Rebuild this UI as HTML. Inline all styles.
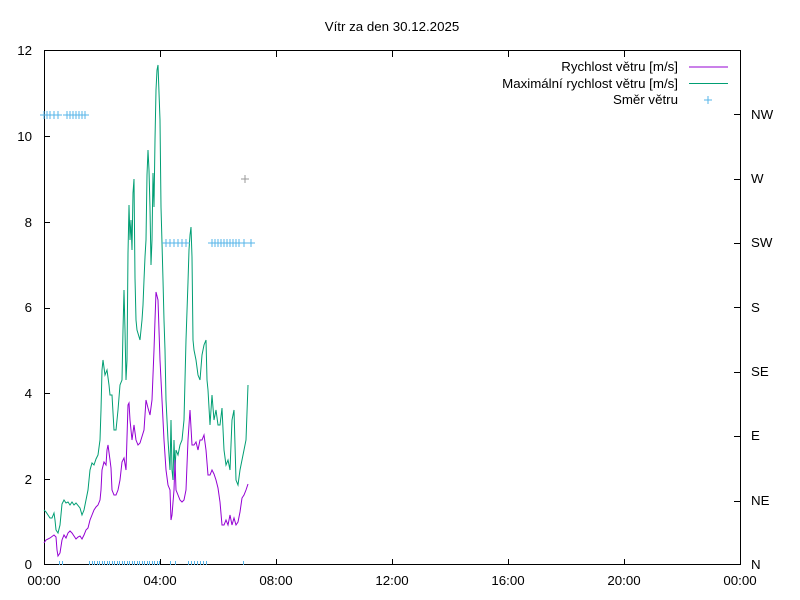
<!DOCTYPE html>
<html><head><meta charset="utf-8"><style>
html,body{margin:0;padding:0;background:#fff;}
svg{display:block;font-family:"Liberation Sans",Arial,sans-serif;font-size:13.3px;}
</style></head><body>
<svg id="s" width="800" height="600" viewBox="0 0 800 600" xmlns="http://www.w3.org/2000/svg">
<rect width="800" height="600" fill="#fff"/>
<text x="392" y="31" text-anchor="middle">Vítr za den 30.12.2025</text>
<g id="grid" stroke="#000" stroke-width="1" fill="none"></g>
<rect x="44.5" y="50.5" width="696" height="514" fill="none" stroke="#000"/>
<g text-anchor="end">
<text x="32" y="569">0</text><text x="32" y="484">2</text><text x="32" y="398">4</text>
<text x="32" y="312">6</text><text x="32" y="227">8</text><text x="32" y="141">10</text><text x="32" y="55">12</text>
</g>
<g>
<text x="751" y="569">N</text><text x="751" y="505">NE</text><text x="751" y="440">E</text>
<text x="751" y="376">SE</text><text x="751" y="312">S</text><text x="751" y="247">SW</text>
<text x="751" y="183">W</text><text x="751" y="119">NW</text>
</g>
<g text-anchor="middle">
<text x="44" y="585">00:00</text><text x="160" y="585">04:00</text><text x="276" y="585">08:00</text>
<text x="392" y="585">12:00</text><text x="508" y="585">16:00</text><text x="624" y="585">20:00</text><text x="740" y="585">00:00</text>
</g>
<polyline fill="none" stroke="#009e73" stroke-width="1" points="44,510 46,512 48,515 50,518 52,518 54,513 55,520 56,530 58,533 60,525 62,504 64,500 66,503 68,502 70,505 72,502 74,505 76,503 80,508 82,515 84,510 86,500 88,490 90,470 92,463 94,465 96,459 98,455 100,440 101,410 102,370 103,360 105,375 107,370 109,385 110,395 112,395 114,430 116,430 118,410 120,385 122,380 123,330 124,290 125,330 126,380 127,360 128,253 129,205 130,240 131,220 132,250 133,193 134,179 135,278 136,320 137,330 140,340 142,320 143,305 144,280 145,257 146,240 147,175 148,150 149,170 150,208 151,265 152,240 153,173 154,207 155,140 156,90 157,70 158,65 160,120 161,207 162,243 163,280 164,320 165,350 166,400 168,440 170,470 171,420 172,470 173,480 174,440 175,470 176,450 178,455 180,445 182,440 184,420 186,340 188,282 189,250 190,235 191,227 192,257 193,340 194,350 196,360 198,375 200,380 202,355 204,345 206,340 207,380 208,390 210,425 212,395 214,420 216,410 218,425 220,425 222,408 224,450 226,465 228,460 230,470 232,420 234,410 236,480 238,485 240,470 242,460 244,450 246,440 248,385"/>
<polyline fill="none" stroke="#9400d3" stroke-width="1" points="44,543 46,540 50,538 54,535 56,537 57,550 58,556 60,553 62,540 64,535 66,538 68,533 70,531 72,533 74,536 76,539 78,537 80,536 82,539 84,535 86,530 88,528 90,520 92,515 94,510 96,507 98,505 100,500 101,490 102,470 104,462 106,465 107,450 108,445 110,460 111,468 112,490 114,495 116,495 118,490 120,480 122,462 124,458 126,470 128,405 129,403 130,420 132,440 134,425 136,440 138,445 140,443 144,430 146,400 148,408 150,415 152,400 154,350 155,320 156,292 158,300 160,360 162,400 164,440 166,470 168,485 170,490 171,520 172,515 174,490 175,460 176,490 178,495 180,500 182,502 184,500 186,490 188,440 190,410 192,445 194,445 196,442 198,450 200,440 202,440 204,435 206,450 208,475 210,475 212,470 214,474 216,480 218,488 220,502 222,525 224,525 226,520 228,525 230,515 232,525 234,518 236,525 238,522 240,512 242,498 244,495 246,490 248,484"/>
<g id="mk" stroke="#56b4e9" stroke-width="1"></g>
<path d="M241,179h8M245,175v8" stroke="#999" stroke-width="1"/>
<g text-anchor="end">
<text x="678" y="71">Rychlost větru [m/s]</text>
<text x="678" y="88">Maximální rychlost větru [m/s]</text>
<text x="678" y="104">Směr větru</text>
</g>
<path d="M689,67h39" stroke="#9400d3"/>
<path d="M689,83.5h39" stroke="#009e73"/>
<path d="M704,100h8M708,96v8" stroke="#56b4e9"/>
</svg>
<script>
var g=document.getElementById('grid'),d='';
for(var i=1;i<6;i++){var x=44+i*116+.5;d+='M'+x+',565v-6M'+x+',51v6';}
for(var j=1;j<6;j++){var y=565-j*85.8;y=Math.round(y)+.5;d+='M44,'+y+'h6';}
for(var k=1;k<8;k++){var y2=Math.round(565-k*64.4)+.5;d+='M740,'+y2+'h-6';}
var p=document.createElementNS('http://www.w3.org/2000/svg','path');p.setAttribute('d',d);g.appendChild(p);
var m='';
function pl(x,y){m+='M'+(x-4)+','+y+'h8M'+x+','+(y-4)+'v8';}
[44,47,50,54,58].forEach(function(x){pl(x,115);});
[67,70,73,76,79,82,85].forEach(function(x){pl(x,115);});
[166,170,174,178,182,186].forEach(function(x){pl(x,243);});
[212,215,218,221,224,227,230,233,236,239,244,251].forEach(function(x){pl(x,243);});
var n=[59,62];for(var x=89;x<=161;x+=2.5)n.push(Math.round(x));n=n.concat([170,175,188,191,194,197,200,203,206,243]);
n.forEach(function(x){m+='M'+(x+.5)+',561v4';});
var q=document.createElementNS('http://www.w3.org/2000/svg','path');q.setAttribute('d',m);document.getElementById('mk').appendChild(q);
</script>
</body></html>
